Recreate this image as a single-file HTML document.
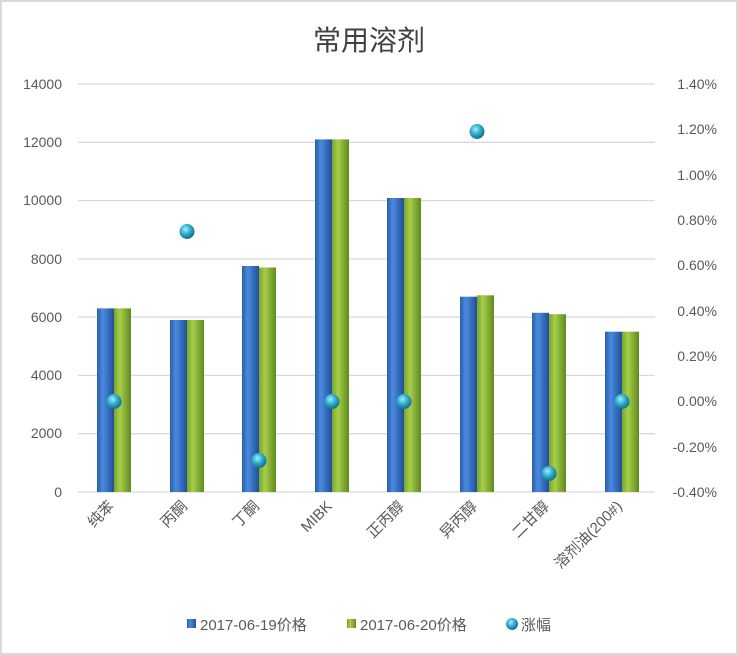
<!DOCTYPE html>
<html><head><meta charset="utf-8"><style>
html,body{margin:0;padding:0;background:#fff}
svg{display:block}
text{font-family:"Liberation Sans","Noto Sans CJK SC",sans-serif;fill:#595959}
</style></head><body>
<svg width="738" height="655" viewBox="0 0 738 655">
<defs>
<linearGradient id="gb" x1="0" x2="1" y1="0" y2="0">
<stop offset="0" stop-color="#2a5fa8"/><stop offset="0.35" stop-color="#4a8ae0"/><stop offset="1" stop-color="#1f4f96"/></linearGradient>
<linearGradient id="gg" x1="0" x2="1" y1="0" y2="0">
<stop offset="0" stop-color="#7aa42c"/><stop offset="0.35" stop-color="#a6cf4a"/><stop offset="1" stop-color="#5f8a1e"/></linearGradient>
<radialGradient id="gc" cx="0.4" cy="0.35" r="0.65">
<stop offset="0" stop-color="#a8ecfa"/><stop offset="0.5" stop-color="#2fb0d0"/><stop offset="1" stop-color="#126f8c"/></radialGradient>
</defs>
<rect x="1" y="1" width="736" height="653" fill="#fff" stroke="#d9d9d9" stroke-width="2"/>
<text x="369" y="50" font-size="28" text-anchor="middle" style="fill:#404040">常用溶剂</text>
<g stroke="#d9d9d9" stroke-width="1.3">
<line x1="78" x2="655" y1="84" y2="84"/><line x1="78" x2="655" y1="142.3" y2="142.3"/>
<line x1="78" x2="655" y1="200.6" y2="200.6"/><line x1="78" x2="655" y1="258.9" y2="258.9"/>
<line x1="78" x2="655" y1="317.1" y2="317.1"/><line x1="78" x2="655" y1="375.4" y2="375.4"/>
<line x1="78" x2="655" y1="433.7" y2="433.7"/><line x1="78" x2="655" y1="492" y2="492"/>
</g>
<g font-size="14" text-anchor="end">
<text x="62" y="89">14000</text><text x="62" y="147">12000</text><text x="62" y="205">10000</text>
<text x="62" y="264">8000</text><text x="62" y="322">6000</text><text x="62" y="380">4000</text>
<text x="62" y="438">2000</text><text x="62" y="497">0</text>
</g>
<g font-size="14" text-anchor="end">
<text x="717" y="89">1.40%</text><text x="717" y="134">1.20%</text><text x="717" y="180">1.00%</text>
<text x="717" y="225">0.80%</text><text x="717" y="270">0.60%</text><text x="717" y="316">0.40%</text>
<text x="717" y="361">0.20%</text><text x="717" y="406">0.00%</text><text x="717" y="452">-0.20%</text>
<text x="717" y="497">-0.40%</text>
</g>
<g id="bars">
<rect x="97" y="308.4" width="17" height="183.6" fill="url(#gb)"/><rect x="114" y="308.4" width="17" height="183.6" fill="url(#gg)"/>
<rect x="170" y="320" width="17" height="172" fill="url(#gb)"/><rect x="187" y="320" width="17" height="172" fill="url(#gg)"/>
<rect x="242" y="266" width="17" height="226" fill="url(#gb)"/><rect x="259" y="267.5" width="17" height="224.5" fill="url(#gg)"/>
<rect x="315" y="139.4" width="17" height="352.6" fill="url(#gb)"/><rect x="332" y="139.4" width="17" height="352.6" fill="url(#gg)"/>
<rect x="387" y="198" width="17" height="294" fill="url(#gb)"/><rect x="404" y="198" width="17" height="294" fill="url(#gg)"/>
<rect x="460" y="296.7" width="17" height="195.3" fill="url(#gb)"/><rect x="477" y="295.3" width="17" height="196.7" fill="url(#gg)"/>
<rect x="532" y="312.8" width="17" height="179.2" fill="url(#gb)"/><rect x="549" y="314.2" width="17" height="177.8" fill="url(#gg)"/>
<rect x="605" y="331.7" width="17" height="160.3" fill="url(#gb)"/><rect x="622" y="331.7" width="17" height="160.3" fill="url(#gg)"/>
</g>
<g fill="url(#gc)">
<circle cx="114" cy="401.5" r="7.5"/><circle cx="187" cy="231.5" r="7.5"/><circle cx="259" cy="460.5" r="7.5"/>
<circle cx="332" cy="401.5" r="7.5"/><circle cx="404" cy="401.5" r="7.5"/><circle cx="477" cy="131.5" r="7.5"/>
<circle cx="549" cy="473.5" r="7.5"/><circle cx="622" cy="401.5" r="7.5"/>
</g>
<g font-size="15" text-anchor="end">
<text transform="translate(115,507) rotate(-45)">纯苯</text>
<text transform="translate(188,507) rotate(-45)">丙酮</text>
<text transform="translate(260,507) rotate(-45)">丁酮</text>
<text transform="translate(333,507) rotate(-45)">MIBK</text>
<text transform="translate(405,507) rotate(-45)">正丙醇</text>
<text transform="translate(478,507) rotate(-45)">异丙醇</text>
<text transform="translate(550,507) rotate(-45)">二甘醇</text>
<text transform="translate(623,507) rotate(-45)">溶剂油(200#)</text>
</g>
<g font-size="15">
<rect x="187" y="619" width="9" height="9" fill="url(#gb)"/>
<text x="200" y="630">2017-06-19价格</text>
<rect x="347" y="619" width="9" height="9" fill="url(#gg)"/>
<text x="360" y="630">2017-06-20价格</text>
<circle cx="512" cy="624" r="6" fill="url(#gc)"/>
<text x="521" y="630">涨幅</text>
</g>
</svg>
</body></html>
